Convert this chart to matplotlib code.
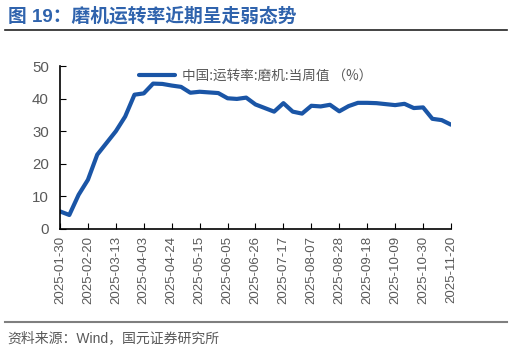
import matplotlib
matplotlib.use("Agg")
import matplotlib.pyplot as plt
import numpy as np
import pandas as pd

plt.rcParams['font.family'] = ['Liberation Sans', 'Noto Sans CJK SC']

# 周度数据：2025-01-30 起，每周四
dates = pd.date_range("2025-01-30", periods=43, freq="7D")
values = [5.4, 4.3, 10.5, 15.1, 22.8, 26.4, 30.0, 34.5, 41.2, 41.6,
          44.6, 44.5, 44.0, 43.6, 41.8, 42.1, 41.9, 41.7, 40.1, 39.9,
          40.3, 38.2, 37.1, 36.0, 38.6, 36.0, 35.4, 37.8, 37.6, 38.1,
          36.1, 37.7, 38.7, 38.7, 38.6, 38.3, 38.0, 38.4, 37.1, 37.3,
          33.8, 33.4, 32.0]
series_name = "中国:运转率:磨机:当周值 （%）"
title = "图 19：磨机运转率近期呈走弱态势"
source = "资料来源：Wind，国元证券研究所"

line_color = "#1A55A6"
grey = "#595959"

fig = plt.figure(figsize=(5.13, 3.51), dpi=100)
ax = fig.add_axes([60/513, 1-229/351, (451-60)/513, (229-66)/351])

x = np.arange(len(values))
ax.plot(x, values, color=line_color, lw=3, solid_joinstyle="round",
        solid_capstyle="round", label=series_name)

ax.set_xlim(0, len(values) - 1)
ax.set_ylim(0, 50)
ax.set_yticks(range(0, 51, 10))
tick_idx = x[::3]
ax.set_xticks(tick_idx)
ax.set_xticklabels([dates[i].strftime("%Y-%m-%d") for i in tick_idx], rotation=90)

ax.tick_params(axis="y", direction="in", length=4, labelsize=10.8, pad=8)
ax.tick_params(axis="x", direction="in", length=4, labelsize=9.5, pad=5)
ax.tick_params(colors="black", which="both", labelcolor=grey)
for s in ["top", "right"]:
    ax.spines[s].set_visible(False)
for s in ["left", "bottom"]:
    ax.spines[s].set_color("black")
    ax.spines[s].set_linewidth(1.2)

leg = ax.legend(loc="upper left", bbox_to_anchor=(0.17, 1.06), frameon=False,
                handlelength=2.7, handletextpad=0.5,
                prop={"family": ["Noto Sans CJK SC"], "size": 9.8})
for t in leg.get_texts():
    t.set_color(grey)

fig.text(8/513, 1-16/351, title, color="#2F63AD", fontsize=13.5, fontweight="bold",
         va="center", ha="left")
fig.add_artist(plt.Line2D([5/513, 507/513], [1-30/351, 1-30/351], color="#222222", lw=1.2))
fig.add_artist(plt.Line2D([5/513, 507/513], [1-322/351, 1-322/351], color="#7f7f7f", lw=1.5))
fig.text(7/513, 1-338/351, source, color=grey, fontsize=10, va="center", ha="left")

fig.savefig("out.png", dpi=100)
